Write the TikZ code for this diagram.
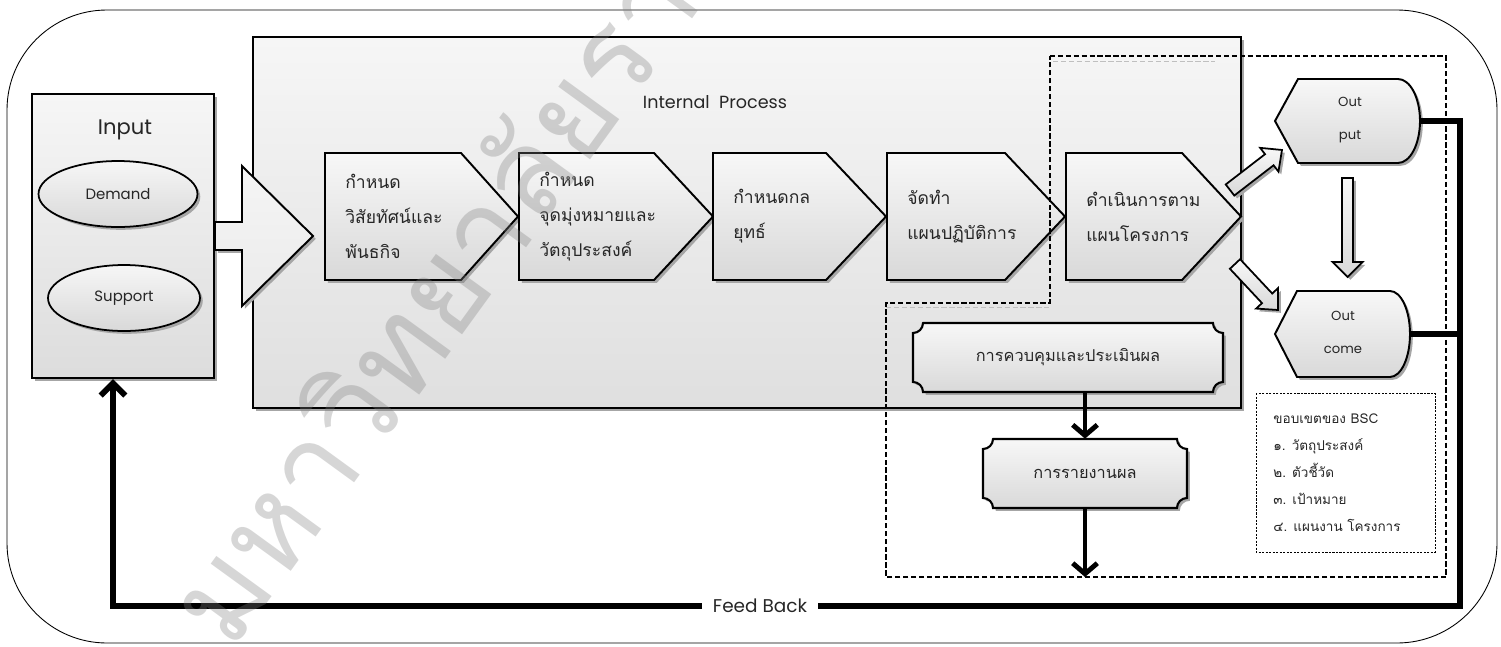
\documentclass[tikz,border=0pt]{standalone}
\usepackage{fontspec}
\setmainfont{Loma}[Script=Thai]
\newfontfamily\latinf{Poppins}
\usetikzlibrary{shadows,arrows.meta,shapes.geometric}
\newcommand\pentshape[3]{\draw[pent] (#1,153) -- (#2,153) -- (#3,216.5) -- (#2,280) -- (#1,280) -- cycle;}
\newcommand\plaqueshape[4]{%
 \draw[plq] (#1+10,#2) -- (#3-10,#2) arc[start angle=180,end angle=270,radius=0.2cm]
   -- (#3,#4-10) arc[start angle=90,end angle=180,radius=0.2cm]
   -- (#1+10,#4) arc[start angle=0,end angle=90,radius=0.2cm]
   -- (#1,#2+10) arc[start angle=-90,end angle=0,radius=0.2cm] -- cycle;}
\newcommand\blkarrow[6]{% x y angle length shafthalf headlen
 \begin{scope}[shift={(#1,#2)},rotate=#3]
 \draw[barrow] (0,-#5) -- (#4-#6,-#5) -- (#4-#6,-15) -- (#4,0) -- (#4-#6,15) -- (#4-#6,#5) -- (0,#5) -- cycle;
 \end{scope}}
\tikzset{
 shad/.style={drop shadow={shadow xshift=1.6pt,shadow yshift=-1.6pt,fill=gray!70,opacity=1}},
 box/.style={draw=black,line width=1.1pt,top color=gray!7,bottom color=gray!27,shad,inner sep=0pt},
 ell/.style={ellipse,draw=black,line width=1pt,top color=gray!7,bottom color=gray!30,shad,inner sep=0pt},
 pent/.style={draw=black,line width=1.1pt,top color=gray!6,bottom color=gray!30,shad},
 plq/.style={draw=black,line width=1.2pt,top color=gray!6,bottom color=gray!30,shad},
 shp/.style={draw=black,line width=1.1pt,top color=gray!6,bottom color=gray!30,shad},
 barrow/.style={draw=black,line width=1pt,top color=gray!6,bottom color=gray!30,shad},
 inarrow/.style={draw=black,line width=1.1pt,top color=gray!8,bottom color=gray!16,shad},
 thtxt/.style={font=\fontsize{10}{19.8}\selectfont,align=left,inner sep=0pt,text=black!85},
 ptxt/.style={inner sep=0pt,text=black!85},
 fb/.style={line width=3.4pt,line join=miter},
 tip/.style={-{Straight Barb[length=7pt,width=14pt]}},
}
\begin{document}
\begin{tikzpicture}[x=0.02cm,y=-0.02cm]
\useasboundingbox (0,0) rectangle (1501,646);
% outer frame
\draw[line width=0.5pt,rounded corners=2cm] (7,10) rectangle (1497,643);

% Input box
\node[box,minimum width=3.64cm,minimum height=5.68cm] (input) at (123,236) {};
\node[font=\latinf\fontsize{12}{14}\selectfont,text=black!85] (inputlbl) at (125,130) {Input};
\node[ell,minimum width=3.18cm,minimum height=1.32cm,font=\latinf\fontsize{8.5}{10}\selectfont,text=black!85] (demand) at (118,194) {Demand};
\node[ell,minimum width=3.04cm,minimum height=1.32cm,font=\latinf\fontsize{8.5}{10}\selectfont,text=black!85] (support) at (124,298) {Support};

% Internal process box
\node[box,top color=gray!7,bottom color=gray!25,minimum width=19.76cm,minimum height=7.42cm] (proc) at (747,222.5) {};
\node[font=\latinf\fontsize{10}{12}\selectfont,text=black!85] (proclbl) at (715,102) {Internal~~Process};

% big input arrow
\draw[inarrow] (input.east |- 0,222) -- (242,222) -- (242,166) -- (313,236) -- (242,306) -- (242,250) -- (input.east |- 0,250) -- cycle;

% pentagons
\pentshape{325}{461}{518}
\pentshape{519}{654}{713}
\pentshape{713}{826}{886}
\pentshape{887}{1005}{1065}
\pentshape{1066}{1182}{1241}
\node[thtxt,anchor=west] (p1) at (345,216.5) {กำหนด\\วิสัยทัศน์และ\\พันธกิจ};
\node[thtxt,anchor=west] (p2) at (539,216.5) {กำหนด\\จุดมุ่งหมายและ\\วัตถุประสงค์};
\node[thtxt,anchor=west] (p3) at (733,216.5) {กำหนดกล\\ยุทธ์};
\node[thtxt,anchor=west] (p4) at (907,216.5) {จัดทำ\\แผนปฏิบัติการ};
\node[thtxt,anchor=west] (p5) at (1086,216.5) {ดำเนินการตาม\\แผนโครงการ};

% control & report
\plaqueshape{913}{323}{1223}{392}
\plaqueshape{983}{439}{1187}{508}
\node[ptxt,minimum width=6.2cm,minimum height=1.38cm,font=\fontsize{9.3}{11}\selectfont] (ctrl) at (1068,357.5) {การควบคุมและประเมินผล};
\node[ptxt,minimum width=4.08cm,minimum height=1.38cm,font=\fontsize{9.3}{11}\selectfont] (rep) at (1085,473.5) {การรายงานผล};

% output / outcome
\draw[shp] (1275,121) -- (1298,79) -- (1398,79) arc[start angle=90,end angle=-90,x radius=0.44cm,y radius=0.84cm] -- (1298,163) -- cycle;
\draw[shp] (1275,334) -- (1297,291) -- (1390,291) arc[start angle=90,end angle=-90,x radius=0.4cm,y radius=0.86cm] -- (1297,377) -- cycle;
\node[ptxt,minimum width=2.9cm,minimum height=1.68cm] (output) at (1347.5,121) {};
\node[ptxt,minimum width=2.7cm,minimum height=1.72cm] (outcome) at (1342.5,334) {};
\node[font=\latinf\fontsize{7.5}{18.7}\selectfont,align=center,text=black!85] (outputlbl) at (1350,120) {Out\\put};
\node[font=\latinf\fontsize{7.5}{18.7}\selectfont,align=center,text=black!85] (outcomelbl) at (1343,332) {Out\\come};

% block arrows
\blkarrow{1230}{190}{37.6}{65.6}{7}{16}
\blkarrow{1235}{264}{-46.9}{63}{7}{16}
\blkarrow{1347.5}{178}{-90}{99}{5.5}{15}

% dashed BSC region
\draw[line width=0.6pt,dash pattern=on 3pt off 1.5pt] (1050,56) -- (1446,56) -- (1446,577) -- (886,577) -- (886,303) -- (1050,303) -- cycle;
\draw[gray!50,line width=0.5pt,dash pattern=on 3pt off 1.5pt] (1053,61) -- (1215,61);
\draw[gray!50,line width=0.5pt,dash pattern=on 3pt off 1.5pt] (886,307) -- (1050,307);
\coordinate (regbot) at (1085,577);

% BSC box
\draw[line width=0.5pt,dash pattern=on 1.2pt off 0.8pt] (1256,393) rectangle (1435,552);
\node[anchor=west,align=left,inner sep=0pt,text=black!85,font=\fontsize{7.7}{15.4}\selectfont] (bsc) at (1273,473) {ขอบเขตของ BSC\\๑. วัตถุประสงค์\\๒. ตัวชี้วัด\\๓. เป้าหมาย\\๔. แผนงาน โครงการ};

% control/report arrows
\draw[line width=2.8pt,-{Straight Barb[length=6pt,width=14pt]}] (rep.north |- ctrl.south) -- (rep.north);
\draw[line width=2.8pt,-{Straight Barb[length=6pt,width=14pt]}] (rep.south) -- (regbot);

% feedback
\node[font=\latinf\fontsize{10.5}{12}\selectfont,inner xsep=6pt,text=black!85] (fbtxt) at (760,606) {Feed Back};
\coordinate (fbin) at (113,379);
\draw[fb] (output.east) -- (1460,121) -- (1460,606) -- (fbtxt.east);
\draw[fb] (outcome.east) -- (1460,334);
\draw[fb,tip] (fbtxt.west) -- (113,606) -- (fbin);

% watermark
\begin{scope}
\clip (0,0) rectangle (1501,646);
\node[font=\fontsize{70}{70}\selectfont,text=gray,opacity=0.32,rotate=54,anchor=base west] (wm) at (228,658) {มหาวิทยาลัยราชภัฏ};
\end{scope}
\end{tikzpicture}
\end{document}
